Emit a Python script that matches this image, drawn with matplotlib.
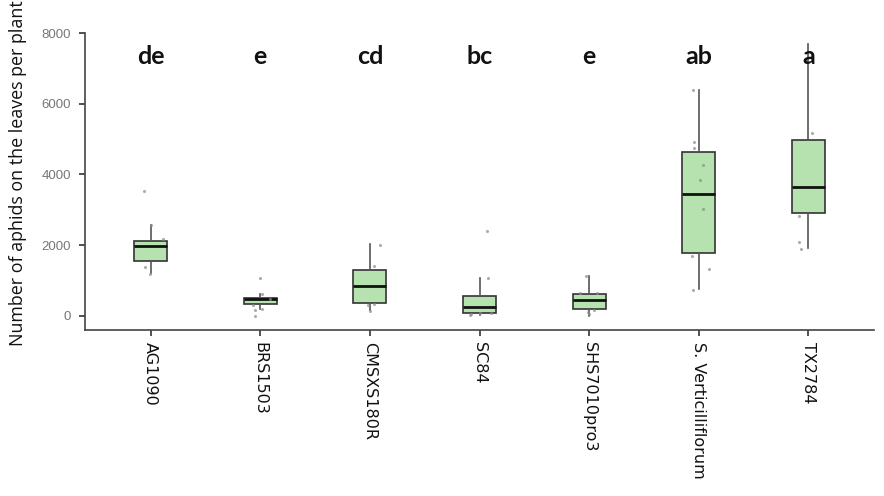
import matplotlib
matplotlib.use("Agg")
import matplotlib.pyplot as plt

categories = ["AG1090", "BRS1503", "CMSXS180R", "SC84", "SHS7010pro3",
              "S. Verticilliflorum", "TX2784"]
letters = ["de", "e", "cd", "bc", "e", "ab", "a"]

q1 = [1540, 340, 369, 85, 190, 1778, 2914]
medians = [1966, 474, 851, 255, 435, 3433, 3640]
q3 = [2128, 502, 1285, 558, 615, 4633, 4974]
whislo = [1210, 198, 170, 28, 0, 757, 1909]
whishi = [2580, 624, 2023, 1078, 1135, 6383, 7688]

points = [
    [3546, 2176, 1390, 1190, 2580],
    [1070, 624, 474, 300, 170, 0, 200],
    [2014, 1400, 312, 340, 142],
    [2411, 1078, 60, 80, 80, 30],
    [1135, 640, 640, 150, 100, 50],
    [6383, 4917, 4747, 4255, 3839, 3036, 1702, 1325, 718],
    [5163, 2837, 2091, 1892],
]
jitter = [
    [-0.06, 0.11, -0.05, -0.01, 0.0],
    [0.0, 0.02, 0.09, -0.07, -0.05, -0.05, 0.02],
    [0.09, 0.04, -0.02, 0.04, 0.0],
    [0.07, 0.08, -0.08, 0.0, 0.1, -0.09],
    [-0.03, -0.08, 0.07, 0.04, -0.01, 0.0],
    [-0.05, -0.04, -0.04, 0.04, 0.01, 0.04, -0.06, 0.09, -0.05],
    [0.03, -0.09, -0.09, -0.07],
]

fig = plt.figure(figsize=(8.84, 4.96), dpi=100)
ax = fig.add_axes([0.096, 0.335, 0.893, 0.598])

stats = []
for i, name in enumerate(categories):
    stats.append(dict(label=name, q1=q1[i], med=medians[i], q3=q3[i],
                      whislo=whislo[i], whishi=whishi[i], fliers=[]))

positions = list(range(len(categories)))
ax.bxp(stats, positions=positions, widths=0.3, patch_artist=True,
       showcaps=False, showfliers=False,
       boxprops=dict(facecolor="#b6e2b0", edgecolor="#333333", linewidth=1.2),
       medianprops=dict(color="#111111", linewidth=2.0),
       whiskerprops=dict(color="#555555", linewidth=1.2))

for i, (vals, offs) in enumerate(zip(points, jitter)):
    xs = [positions[i] + o for o in offs]
    ax.scatter(xs, vals, s=5, color="#8a8a8a", alpha=0.7, zorder=4,
               linewidths=0)

for i, lt in enumerate(letters):
    ax.text(positions[i], 7330, lt, ha="center", va="center",
            fontsize=18, fontweight="bold", family="Lato", color="#111111")

ax.set_xlim(-0.6, 6.6)
ax.set_ylim(-400, 8000)
ax.set_yticks([0, 2000, 4000, 6000, 8000])
ax.set_yticklabels(["0", "2000", "4000", "6000", "8000"],
                   fontsize=9.5, color="#777777", family="Liberation Sans")
ax.set_xticks(positions)
ax.set_xticklabels(categories, rotation=270, fontsize=11.5,
                   family="DejaVu Sans", color="#111111", va="top", ha="center")
ax.tick_params(axis="both", length=4, width=1.2, color="#333333")
ax.tick_params(axis="x", pad=5)
ax.tick_params(axis="y", pad=6)
ax.set_ylabel("Number of aphids on the leaves per plant", fontsize=12.9,
              family="Open Sans", color="#111111")
ax.yaxis.set_label_coords(-0.073, 0.53)

for s in ["top", "right"]:
    ax.spines[s].set_visible(False)
ax.spines["left"].set_color("#444444")
ax.spines["bottom"].set_color("#444444")
ax.spines["left"].set_linewidth(1.2)
ax.spines["bottom"].set_linewidth(1.2)

fig.savefig("out.png", dpi=100)
